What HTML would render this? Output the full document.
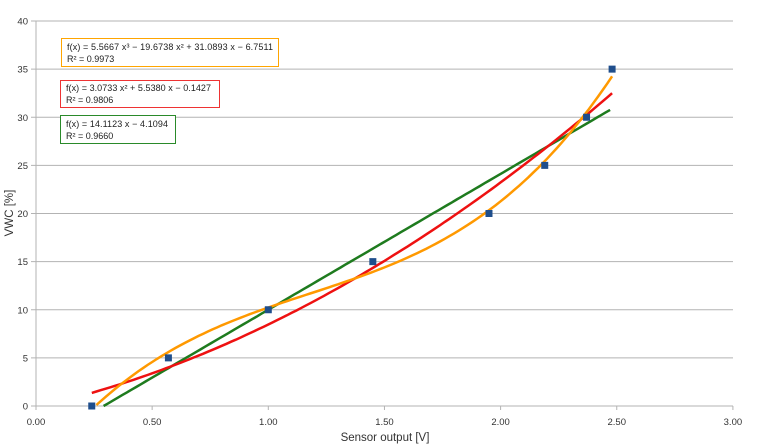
<!DOCTYPE html>
<html><head><meta charset="utf-8"><style>
body{margin:0;background:#fff}
svg{display:block;font-family:"Liberation Sans",sans-serif}
</style></head><body>
<svg id="s" width="770" height="446" xmlns="http://www.w3.org/2000/svg">
<g id="grid" stroke="#b3b3b3" stroke-width="1"></g>
<g id="lab" font-size="9.5" fill="#333"></g>
<line x1="36" y1="21" x2="36" y2="406" stroke="#b3b3b3"/>
<text x="385" y="441" font-size="11.5" text-anchor="middle" fill="#333">Sensor output [V]</text>
<text transform="translate(13,213) rotate(-90)" font-size="11.5" text-anchor="middle" fill="#333">VWC [%]</text>
<polyline id="lin" fill="none" stroke="#1e7b1e" stroke-width="2.5"/>
<polyline id="quad" fill="none" stroke="#ee1111" stroke-width="2.5"/>
<polyline id="cub" fill="none" stroke="#ff9900" stroke-width="2.5"/>
<g id="pts" fill="#1f4e8c"></g>
<rect x="61.5" y="38.5" width="217" height="28" fill="#fff" stroke="#ffa500"/>
<text x="67" y="50" font-size="9" fill="#222" textLength="206">f(x) = 5.5667 x³ − 19.6738 x² + 31.0893 x − 6.7511</text>
<text x="67" y="62" font-size="9" fill="#222">R² = 0.9973</text>
<rect x="60.5" y="80.5" width="159" height="27" fill="#fff" stroke="#ee3333"/>
<text x="66" y="91" font-size="9" fill="#222" textLength="145">f(x) = 3.0733 x² + 5.5380 x − 0.1427</text>
<text x="66" y="103" font-size="9" fill="#222">R² = 0.9806</text>
<rect x="60.5" y="115.5" width="115" height="28" fill="#fff" stroke="#2a8a2a"/>
<text x="66" y="127" font-size="9" fill="#222" textLength="102">f(x) = 14.1123 x − 4.1094</text>
<text x="66" y="139" font-size="9" fill="#222">R² = 0.9660</text>
</svg>
<script>
var NS="http://www.w3.org/2000/svg";
function X(v){return 36+v*232.3}function Y(v){return 406-v*9.625}
var g=document.getElementById("grid"),l=document.getElementById("lab");
function el(p,t,a,txt){var e=document.createElementNS(NS,t);for(var k in a)e.setAttribute(k,a[k]);if(txt)e.textContent=txt;p.appendChild(e);return e}
for(var i=0;i<=8;i++){var y=Y(i*5);el(g,"line",{x1:31,x2:733,y1:y,y2:y});el(l,"text",{x:28,y:y+3.5,"text-anchor":"end"},String(i*5))}
for(var i=0;i<=6;i++){var x=X(i*0.5);el(g,"line",{x1:x,x2:x,y1:406,y2:410});el(l,"text",{x:x,y:425,"text-anchor":"middle"},(i*0.5).toFixed(2))}
function curve(id,f,a,b){var p=[];for(var t=a;t<=b+1e-9;t+=0.02)p.push(X(t).toFixed(1)+","+Y(f(t)).toFixed(1));document.getElementById(id).setAttribute("points",p.join(" "))}
curve("lin",function(x){return 14.1123*x-4.1094},0.2912,2.48);
curve("quad",function(x){return 3.0733*x*x+5.538*x-0.1427},0.24,2.48);
curve("cub",function(x){return 5.5667*x*x*x-19.6738*x*x+31.0893*x-6.7511},0.26,2.48);
var d=[[0.24,0],[0.57,5],[1.0,10],[1.45,15],[1.95,20],[2.19,25],[2.37,30],[2.48,35]],P=document.getElementById("pts");
d.forEach(function(q){el(P,"rect",{x:X(q[0])-3.5,y:Y(q[1])-3.5,width:7,height:7})});
</script>
</body></html>
